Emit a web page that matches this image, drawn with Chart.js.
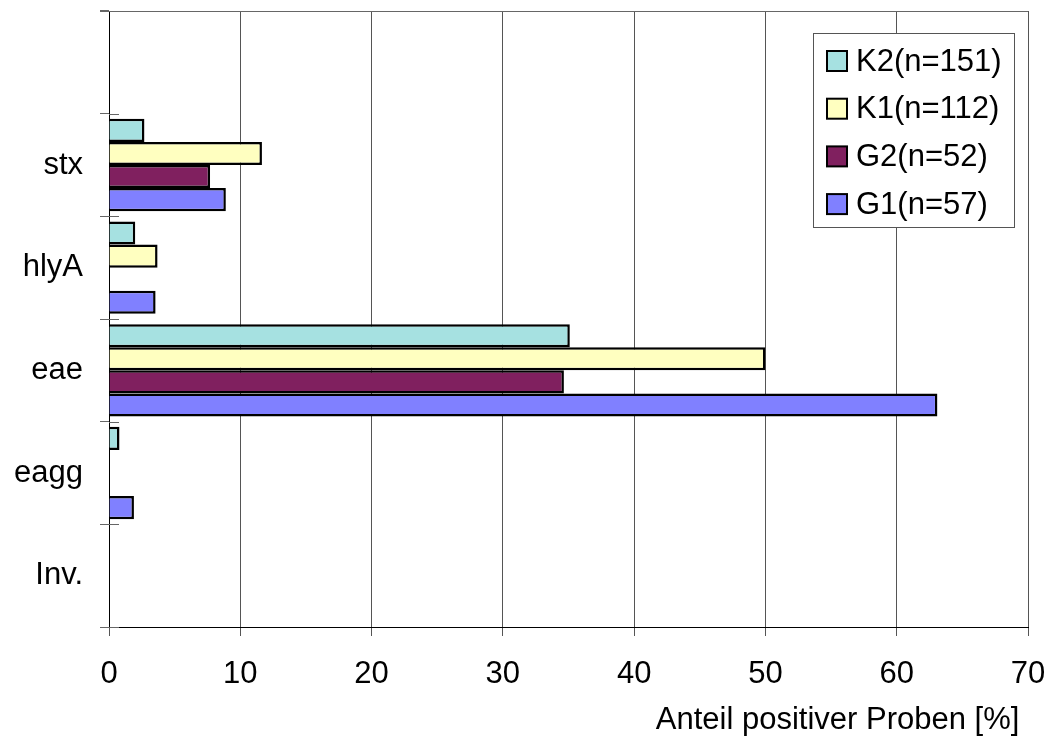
<!DOCTYPE html>
<html>
<head>
<meta charset="utf-8">
<script src="https://cdn.jsdelivr.net/npm/chart.js@4"></script>
<style>
  html, body { margin: 0; padding: 0; background: #fff; }
  #wrap { width: 1052px; height: 742px; }
</style>
</head>
<body>
<div id="wrap"><canvas id="genChart" width="1052" height="742"></canvas></div>
<script>
// Kategorien (oberste Kategorie ist leer)
const categories = ['', 'stx', 'hlyA', 'eae', 'eagg', 'Inv.'];
const seriesNames = ['K2(n=151)', 'K1(n=112)', 'G2(n=52)', 'G1(n=57)'];
const k2Values = [null, 2.7, 2.0, 35.1, 0.8, null];
const k1Values = [null, 11.65, 3.7, 50.0, null, null];
const g2Values = [null, 7.7, null, 34.65, null, null];
const g1Values = [null, 8.9, 3.55, 63.1, 1.9, null];
const xTicks = [0, 10, 20, 30, 40, 50, 60, 70];
const seriesColors = ['#a6e1e1', '#ffffc0', '#80205f', '#8080ff'];

const FONT = "'Liberation Sans', Arial, sans-serif";
const ctx = document.getElementById('genChart').getContext('2d');

// Rahmen oben + kurze Striche nach innen an der y-Achse
const framePlugin = {
    id: 'frame',
    beforeDatasetsDraw(chart) {
        const c = chart.ctx;
        const a = chart.chartArea;
        c.save();
        c.strokeStyle = '#666';
        c.lineWidth = 1;
        c.beginPath();
        c.moveTo(a.left - 9, a.top + 0.5);
        c.lineTo(a.right, a.top + 0.5);
        const step = (a.bottom - a.top) / categories.length;
        for (let i = 0; i <= categories.length; i++) {
            const y = Math.round(a.top + i * step) + 0.5;
            c.moveTo(a.left, y);
            c.lineTo(a.left + 10, y);
        }
        c.stroke();
        c.restore();
    }
};

// Legende im Diagramm mit Rahmen
const boxLegend = {
    id: 'boxLegend',
    afterDraw(chart) {
        const c = chart.ctx;
        c.save();
        c.fillStyle = '#fff';
        c.fillRect(813, 33, 201, 194);
        c.strokeStyle = '#555';
        c.lineWidth = 1;
        c.strokeRect(813.5, 33.5, 201, 194);
        c.font = '31px ' + FONT;
        c.textBaseline = 'middle';
        c.textAlign = 'left';
        seriesNames.forEach((name, i) => {
            const cy = 61 + i * 47.7;
            c.fillStyle = seriesColors[i];
            c.fillRect(827, cy - 10, 20, 20);
            c.strokeStyle = '#000';
            c.lineWidth = 2;
            c.strokeRect(827, cy - 10, 20, 20);
            c.fillStyle = '#000';
            c.fillText(name, 856, cy + 1);
        });
        c.restore();
    }
};

const allValues = [k2Values, k1Values, g2Values, g1Values];

new Chart(ctx, {
    type: 'bar',
    data: {
        labels: categories,
        datasets: allValues.map((vals, i) => ({
            label: seriesNames[i],
            data: vals,
            backgroundColor: seriesColors[i],
            borderColor: '#000',
            borderWidth: 2.5,
            categoryPercentage: 0.9,
            barPercentage: 1.0
        }))
    },
    options: {
        indexAxis: 'y',
        responsive: false,
        animation: false,
        layout: { padding: { top: 11, right: 24, left: 0, bottom: 0 } },
        plugins: {
            legend: { display: false },
            tooltip: { enabled: false }
        },
        scales: {
            x: {
                min: 0,
                max: 70,
                afterBuildTicks(scale) {
                    scale.ticks = xTicks.map(v => ({ value: v }));
                },
                afterFit(scale) {
                    scale.height = 115;
                    scale.paddingLeft = 0;
                    scale.paddingRight = 0;
                },
                grid: { color: '#555', lineWidth: 1, tickLength: 9 },
                border: { color: '#000', width: 1 },
                ticks: {
                    color: '#000',
                    padding: 20,
                    maxRotation: 0,
                    font: { family: FONT, size: 31 }
                },
                title: {
                    display: true,
                    text: 'Anteil positiver Proben [%] ',
                    align: 'end',
                    color: '#000',
                    padding: { top: 0, bottom: 3 },
                    font: { family: FONT, size: 31 }
                }
            },
            y: {
                afterFit(scale) {
                    scale.width = 109;
                    scale.paddingTop = 0;
                    scale.paddingBottom = 0;
                },
                grid: { drawOnChartArea: false, offset: true, tickLength: 9, color: '#666' },
                border: { color: '#000', width: 1 },
                ticks: {
                    color: '#000',
                    padding: 17,
                    font: { family: FONT, size: 31 }
                }
            }
        }
    },
    plugins: [framePlugin, boxLegend]
});
</script>
</body>
</html>
